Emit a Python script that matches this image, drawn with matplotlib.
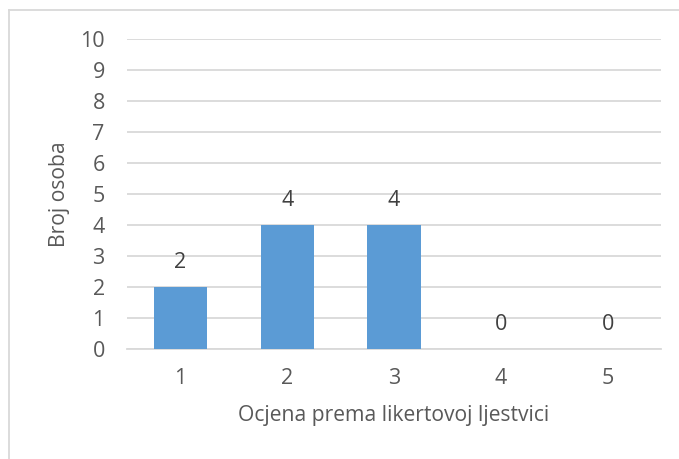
import matplotlib.pyplot as plt
from matplotlib.lines import Line2D

categories = ['1', '2', '3', '4', '5']
counts = [2, 4, 4, 0, 0]
y_ticks = list(range(0, 11))

plt.rcParams['font.family'] = ['Open Sans', 'DejaVu Sans']
text_col = '#595959'
grid_col = '#D9D9D9'

fig = plt.figure(figsize=(6.79, 4.59), dpi=100)
ax = fig.add_axes([127 / 679, 1 - 349 / 459, (661 - 127) / 679, (349 - 39) / 459])

x = range(len(categories))
ax.bar(x, counts, width=0.5, color='#5B9BD5', zorder=3)
for xi, v in zip(x, counts):
    ax.text(xi, v + 0.45, str(v), ha='center', va='bottom', fontsize=15.5, color='#404040')

ax.set_xlim(-0.5, len(categories) - 0.5)
ax.set_ylim(0, 10)
ax.set_yticks(y_ticks)
ax.set_xticks(list(x))
ax.set_xticklabels(categories)
ax.yaxis.grid(True, color=grid_col, linewidth=1.3, zorder=0)
ax.tick_params(length=0, labelsize=15.5, colors=text_col)
ax.tick_params(axis='x', pad=14)
ax.tick_params(axis='y', pad=16)
for s in ['top', 'right', 'left']:
    ax.spines[s].set_visible(False)
ax.spines['bottom'].set_color(grid_col)
ax.spines['bottom'].set_linewidth(1.3)

ax.set_xlabel('Ocjena prema likertovoj ljestvici', fontsize=15.2, color=text_col, labelpad=11)
ax.set_ylabel('Broj osoba', fontsize=15.2, color=text_col, labelpad=7)

# chart area border (top and left visible)
fig.add_artist(Line2D([9 / 679, 1], [1 - 10 / 459, 1 - 10 / 459], color=grid_col, lw=1.3))
fig.add_artist(Line2D([9 / 679, 9 / 679], [0, 1 - 10 / 459], color=grid_col, lw=1.3))

fig.savefig('out.png', dpi=100)
